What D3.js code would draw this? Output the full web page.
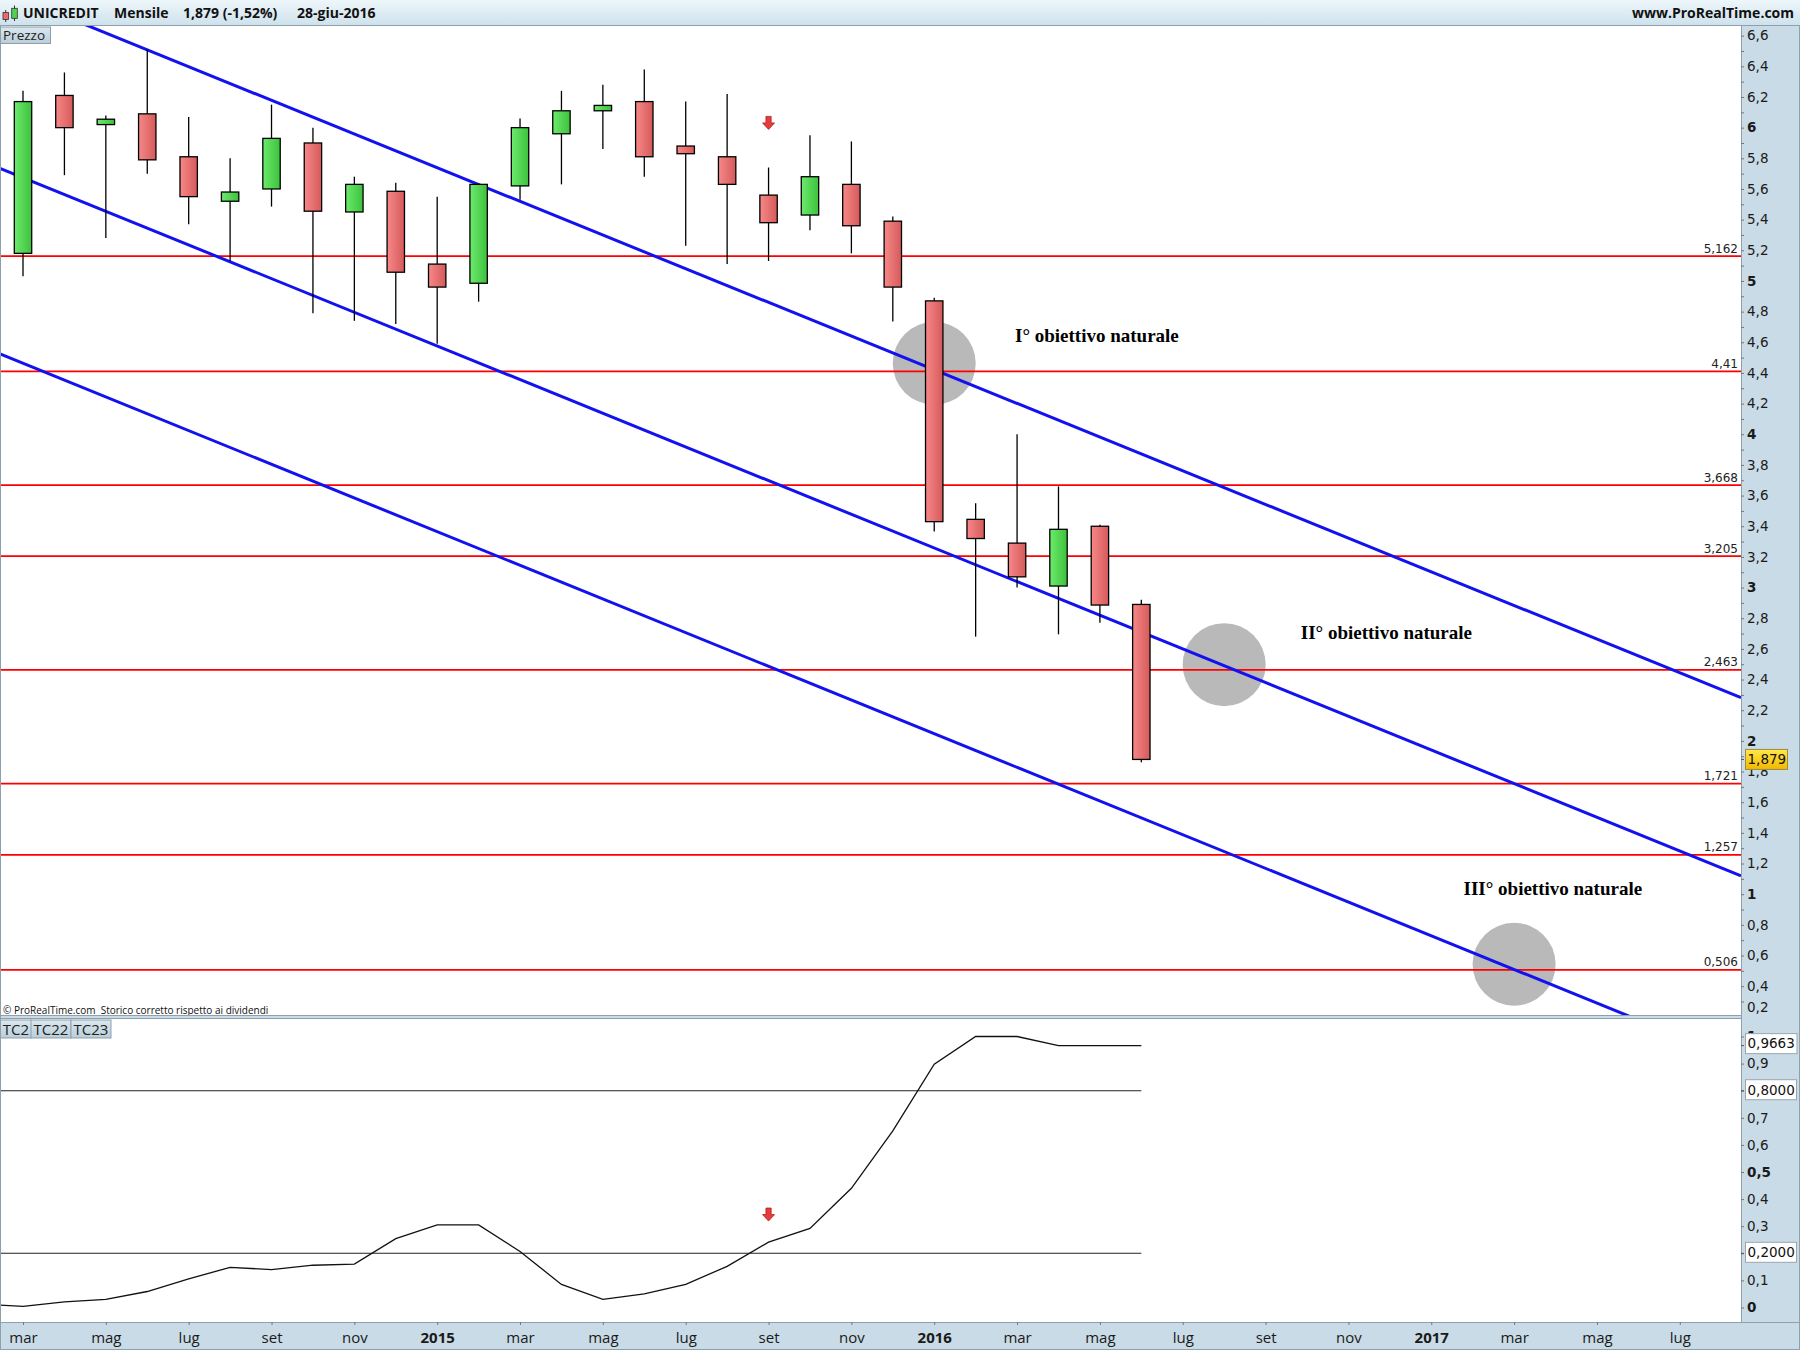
<!DOCTYPE html>
<html><head><meta charset="utf-8">
<script src="https://cdn.jsdelivr.net/npm/d3@7"></script>
<style>body{margin:0;background:#fff;overflow:hidden}</style>
</head><body><div id="chart"></div>
<script>
// ---------- DATA ----------
const months = ["2014-03","2014-04","2014-05","2014-06","2014-07","2014-08","2014-09","2014-10","2014-11","2014-12",
  "2015-01","2015-02","2015-03","2015-04","2015-05","2015-06","2015-07","2015-08","2015-09","2015-10","2015-11","2015-12",
  "2016-01","2016-02","2016-03","2016-04","2016-05","2016-06"];
const openP  = [5.18,6.21,6.02,6.09,5.81,5.52,5.60,5.90,5.45,5.585,5.11,4.985,5.62,5.96,6.11,6.17,5.88,5.81,5.56,5.43,5.63,5.39,4.87,3.445,3.29,3.01,3.40,2.89];
const highP  = [6.24,6.36,6.08,6.51,6.07,5.80,6.15,6.00,5.68,5.64,5.55,5.635,6.06,6.24,6.28,6.38,6.17,6.22,5.74,5.95,5.91,5.42,4.89,3.55,4.00,3.66,3.41,2.92];
const lowP   = [5.03,5.69,5.28,5.70,5.37,5.13,5.485,4.79,4.74,4.72,4.59,4.865,5.53,5.63,5.86,5.68,5.23,5.11,5.13,5.33,5.18,4.735,3.365,2.68,3.00,2.695,2.77,1.86];
const closeP = [6.17,6.00,6.055,5.79,5.55,5.58,5.93,5.455,5.63,5.057,4.96,5.63,6.00,6.11,6.145,5.81,5.83,5.63,5.38,5.68,5.36,4.96,3.43,3.32,3.07,3.38,2.886,1.879];

const tcMonths = ["2014-02","2014-03","2014-04","2014-05","2014-06","2014-07","2014-08","2014-09","2014-10","2014-11","2014-12",
  "2015-01","2015-02","2015-03","2015-04","2015-05","2015-06","2015-07","2015-08","2015-09","2015-10","2015-11","2015-12",
  "2016-01","2016-02","2016-03","2016-04","2016-05","2016-06"];
const tcValues = [0.012,0.004,0.021,0.03,0.059,0.106,0.148,0.14,0.156,0.16,0.254,0.305,0.305,0.207,0.085,0.03,0.05,0.085,0.152,0.241,0.292,0.44,0.652,0.898,1.0,1.0,0.9663,0.9663,0.9663];
const tcLevels = [0.8, 0.2];
const tcLevelLabels = ["0,8000", "0,2000"];
const tcLast = 0.9663, tcLastLabel = "0,9663";

const levels = [5.162, 4.41, 3.668, 3.205, 2.463, 1.721, 1.257, 0.506];
const levelLabels = ["5,162","4,41","3,668","3,205","2,463","1,721","1,257","0,506"];

const channelMonths = ["2014-03", "2017-07"];
const channelTop = [6.837, 2.444];
const channelMid = [5.674, 1.282];
const channelBottom = [4.463, 0.070];

const targetMonths = ["2016-01", "2016-08", "2017-03"];
const targetPrices = [4.463, 2.497, 0.543];
const targetLabels = ["I° obiettivo naturale", "II° obiettivo naturale", "III° obiettivo naturale"];
const targetLabelMonthPos = [23.95, 30.85, 34.78];
const targetLabelPricePos = [4.605, 2.665, 0.995];

const arrowMonth = "2015-09", arrowPrice = 6.031, arrowTc = 0.343;
const lastPrice = 1.879, lastPriceLabel = "1,879";

const priceTicks = [0.2,0.4,0.6,0.8,1,1.2,1.4,1.6,1.8,2,2.2,2.4,2.6,2.8,3,3.2,3.4,3.6,3.8,4,4.2,4.4,4.6,4.8,5,5.2,5.4,5.6,5.8,6,6.2,6.4,6.6];
const tcTicks = [0,0.1,0.3,0.4,0.5,0.6,0.7,0.9,1];   // 0,2 and 0,8 are hidden under their value boxes
const xTickMonths = ["2014-03","2014-05","2014-07","2014-09","2014-11","2015-01","2015-03","2015-05","2015-07","2015-09","2015-11",
  "2016-01","2016-03","2016-05","2016-07","2016-09","2016-11","2017-01","2017-03","2017-05","2017-07"];
const xTickLabels = ["mar","mag","lug","set","nov","2015","mar","mag","lug","set","nov","2016","mar","mag","lug","set","nov","2017","mar","mag","lug"];

// ---------- LAYOUT ----------
const W = 1800, H = 1350;
const plotR = 1741, headerH = 26;
const pTop = 26, pBot = 1015, iTop = 1019, iBot = 1322;
const axisBg = "#c9dbe6", borderC = "#8f9fab";
const UI = "'Open Sans', 'Noto Sans', sans-serif";
const AX = "'DejaVu Sans', Verdana, sans-serif";

const monthIdx = s => { const [y, m] = s.split("-").map(Number); return (y - 2014) * 12 + (m - 3); };
const x = d3.scaleLinear().domain([-0.5553, 41.478]).range([0, plotR]);
const yP = d3.scaleLinear().domain([0.212, 6.663]).range([pBot, pTop]);
const yI = d3.scaleLinear().domain([-0.0535, 1.0646]).range([iBot, iTop]);
const fmt = v => { const r = Math.round(v * 10) / 10; return Number.isInteger(r) ? String(r) : r.toFixed(1).replace(".", ","); };

const svg = d3.select("#chart").append("svg").attr("width", W).attr("height", H)
  .attr("viewBox", `0 0 ${W} ${H}`).style("display", "block");
const defs = svg.append("defs");
function hGrad(id, a, b) {
  const g = defs.append("linearGradient").attr("id", id).attr("x1", 0).attr("x2", 1).attr("y1", 0).attr("y2", 0);
  g.append("stop").attr("offset", 0).attr("stop-color", a);
  g.append("stop").attr("offset", 1).attr("stop-color", b);
}
function vGrad(id, a, b) {
  const g = defs.append("linearGradient").attr("id", id).attr("x1", 0).attr("x2", 0).attr("y1", 0).attr("y2", 1);
  g.append("stop").attr("offset", 0).attr("stop-color", a);
  g.append("stop").attr("offset", 1).attr("stop-color", b);
}
hGrad("gGreen", "#6cea6c", "#3dc23d");
hGrad("gRed", "#f78888", "#d55a5a");
vGrad("gHead", "#eef7fb", "#cde1eb");
vGrad("gTab", "#dbe8ef", "#b9cdd9");
vGrad("gYellow", "#ffe74a", "#f2b800");
defs.append("clipPath").attr("id", "cP").append("rect").attr("x", 0).attr("y", pTop).attr("width", plotR).attr("height", pBot - pTop);
defs.append("clipPath").attr("id", "cI").append("rect").attr("x", 0).attr("y", iTop).attr("width", plotR).attr("height", iBot - iTop);

svg.append("rect").attr("width", W).attr("height", H).attr("fill", "#fff");

// ---------- PRICE PANEL ----------
const gp = svg.append("g").attr("clip-path", "url(#cP)");
gp.selectAll("circle.t").data(targetMonths).join("circle")
  .attr("cx", (d) => x(monthIdx(d))).attr("cy", (d, i) => yP(targetPrices[i])).attr("r", 41.5)
  .attr("fill", "#b9b9b9");
gp.selectAll("line.lv").data(levels).join("line")
  .attr("x1", 0).attr("x2", plotR).attr("y1", d => yP(d)).attr("y2", d => yP(d))
  .attr("stroke", "#ff0000").attr("stroke-width", 1.7);
const c0 = monthIdx(channelMonths[0]), c1 = monthIdx(channelMonths[1]);
const dom = x.domain();
[channelTop, channelMid, channelBottom].forEach(ch => {
  const slope = (ch[1] - ch[0]) / (c1 - c0);
  const v = t => ch[0] + slope * (t - c0);
  gp.append("line").attr("x1", x(dom[0])).attr("y1", yP(v(dom[0])))
    .attr("x2", x(dom[1])).attr("y2", yP(v(dom[1])))
    .attr("stroke", "#1212ee").attr("stroke-width", 3);
});
const candles = months.map((m, i) => ({ i: monthIdx(m), o: openP[i], h: highP[i], l: lowP[i], c: closeP[i] }));
const cw = 17.4;
const cg = gp.selectAll("g.c").data(candles).join("g");
cg.append("line").attr("x1", d => x(d.i)).attr("x2", d => x(d.i))
  .attr("y1", d => yP(d.h)).attr("y2", d => yP(d.l)).attr("stroke", "#000").attr("stroke-width", 1.3);
cg.append("rect").attr("x", d => x(d.i) - cw / 2).attr("width", cw)
  .attr("y", d => yP(Math.max(d.o, d.c)))
  .attr("height", d => Math.max(1.5, yP(Math.min(d.o, d.c)) - yP(Math.max(d.o, d.c))))
  .attr("fill", d => d.c >= d.o ? "url(#gGreen)" : "url(#gRed)")
  .attr("stroke", "#000").attr("stroke-width", 1.3);
gp.selectAll("text.lv").data(levels).join("text")
  .attr("x", plotR - 3).attr("y", d => yP(d) - 3.5).attr("text-anchor", "end")
  .attr("font-family", AX).attr("font-size", 12).attr("fill", "#222")
  .text((d, i) => levelLabels[i]);
gp.selectAll("text.tl").data(targetLabels).join("text")
  .attr("x", (d, i) => x(targetLabelMonthPos[i])).attr("y", (d, i) => yP(targetLabelPricePos[i]))
  .attr("font-family", "'Liberation Serif', 'Times New Roman', serif").attr("font-weight", "bold")
  .attr("font-size", 19).attr("fill", "#000").text(d => d);
const arrowPath = "M-2.6,-6.5 L2.6,-6.5 L2.6,0 L6,0 L0,6.5 L-6,0 L-2.6,0 Z";
gp.append("path").attr("d", arrowPath)
  .attr("transform", `translate(${x(monthIdx(arrowMonth))},${yP(arrowPrice)})`)
  .attr("fill", "#e63c3c").attr("stroke", "#b02020").attr("stroke-width", 0.8);

svg.append("text").attr("x", 3).attr("y", 1013.5).attr("font-family", UI).attr("font-size", 10)
  .attr("fill", "#111").attr("xml:space", "preserve").text("© ProRealTime.com  Storico corretto rispetto ai dividendi");
svg.append("rect").attr("x", 0.5).attr("y", 27).attr("width", 50).attr("height", 16.5)
  .attr("fill", "url(#gTab)").attr("stroke", borderC).attr("stroke-width", 1);
svg.append("text").attr("x", 3).attr("y", 40).attr("font-family", UI).attr("font-size", 13.5)
  .attr("fill", "#222").text("Prezzo");

// ---------- INDICATOR PANEL ----------
const gi = svg.append("g").attr("clip-path", "url(#cI)");
const lastIdx = monthIdx(tcMonths[tcMonths.length - 1]);
gi.selectAll("line.tl").data(tcLevels).join("line")
  .attr("x1", 0).attr("x2", x(lastIdx)).attr("y1", d => yI(d)).attr("y2", d => yI(d))
  .attr("stroke", "#222").attr("stroke-width", 1.1);
gi.append("path").datum(tcMonths.map((m, i) => [monthIdx(m), tcValues[i]]))
  .attr("d", d3.line().x(d => x(d[0])).y(d => yI(d[1])))
  .attr("fill", "none").attr("stroke", "#111").attr("stroke-width", 1.3);
gi.append("path").attr("d", arrowPath)
  .attr("transform", `translate(${x(monthIdx(arrowMonth))},${yI(arrowTc)})`)
  .attr("fill", "#e63c3c").attr("stroke", "#b02020").attr("stroke-width", 0.8);
const tabs = [["TC2", 0.5, 31], ["TC22", 31, 40], ["TC23", 71, 40]];
tabs.forEach(t => {
  svg.append("rect").attr("x", t[1]).attr("y", 1020).attr("width", t[2]).attr("height", 18)
    .attr("fill", "url(#gTab)").attr("stroke", borderC).attr("stroke-width", 1);
  svg.append("text").attr("x", t[1] + t[2] / 2).attr("y", 1034.5).attr("text-anchor", "middle")
    .attr("font-family", UI).attr("font-size", 15).attr("fill", "#222").text(t[0]);
});

// ---------- FRAMES ----------
svg.append("rect").attr("x", 0).attr("y", pBot).attr("width", plotR).attr("height", iTop - pBot).attr("fill", axisBg);
svg.append("rect").attr("x", plotR).attr("y", 0).attr("width", W - plotR).attr("height", H).attr("fill", axisBg);
svg.append("rect").attr("x", 0).attr("y", iBot).attr("width", W).attr("height", H - iBot).attr("fill", axisBg);
svg.append("line").attr("x1", 0).attr("x2", plotR).attr("y1", pBot + 0.5).attr("y2", pBot + 0.5).attr("stroke", borderC);
svg.append("line").attr("x1", 0).attr("x2", plotR).attr("y1", iTop - 0.5).attr("y2", iTop - 0.5).attr("stroke", borderC);
svg.append("line").attr("x1", 0).attr("x2", W).attr("y1", iBot + 0.5).attr("y2", iBot + 0.5).attr("stroke", borderC);
svg.append("line").attr("x1", plotR + 0.5).attr("x2", plotR + 0.5).attr("y1", headerH).attr("y2", iBot).attr("stroke", borderC);
svg.append("line").attr("x1", 0.5).attr("x2", 0.5).attr("y1", headerH).attr("y2", H).attr("stroke", borderC);
svg.append("line").attr("x1", W - 0.5).attr("x2", W - 0.5).attr("y1", 0).attr("y2", H).attr("stroke", borderC);
svg.append("line").attr("x1", 0).attr("x2", W).attr("y1", H - 0.5).attr("y2", H - 0.5).attr("stroke", borderC);

svg.append("rect").attr("x", 0).attr("y", 0).attr("width", W).attr("height", headerH).attr("fill", "url(#gHead)");
svg.append("line").attr("x1", 0).attr("x2", W).attr("y1", headerH - 0.5).attr("y2", headerH - 0.5).attr("stroke", borderC);
svg.append("line").attr("x1", 5.7).attr("x2", 5.7).attr("y1", 10).attr("y2", 22).attr("stroke", "#333").attr("stroke-width", 1);
svg.append("rect").attr("x", 3).attr("y", 12.5).attr("width", 5.4).attr("height", 7).attr("fill", "#ef6b6b").attr("stroke", "#333").attr("stroke-width", 0.8);
svg.append("line").attr("x1", 14.5).attr("x2", 14.5).attr("y1", 5.5).attr("y2", 21).attr("stroke", "#333").attr("stroke-width", 1);
svg.append("rect").attr("x", 11.7).attr("y", 8.3).attr("width", 5.6).attr("height", 10).attr("fill", "#4fd24f").attr("stroke", "#333").attr("stroke-width", 0.8);
const head = [["UNICREDIT", 23], ["Mensile", 114], ["1,879 (-1,52%)", 183], ["28-giu-2016", 297]];
head.forEach(h => svg.append("text").attr("x", h[1]).attr("y", 17.5).attr("font-family", UI)
  .attr("font-weight", "bold").attr("font-size", 14).attr("fill", "#111").text(h[0]));
svg.append("text").attr("x", 1794).attr("y", 17.5).attr("text-anchor", "end").attr("font-family", UI)
  .attr("font-weight", "bold").attr("font-size", 14).attr("fill", "#111").text("www.ProRealTime.com");

// ---------- AXES ----------
const minor = d3.range(0.3, 6.6, 0.2);
svg.append("g").attr("transform", `translate(${plotR},0)`)
  .call(d3.axisRight(yP).tickValues(minor).tickSize(3).tickFormat(""))
  .call(g => g.select(".domain").remove())
  .call(g => g.selectAll("line").attr("stroke", "#777"));
const pax = svg.append("g").attr("transform", `translate(${plotR},0)`)
  .call(d3.axisRight(yP).tickValues(priceTicks).tickSize(3).tickPadding(3).tickFormat(fmt));
pax.select(".domain").remove();
pax.selectAll("line").attr("stroke", "#777");
pax.selectAll("text").attr("font-family", AX).attr("font-size", 13.5).attr("fill", "#1a1a1a")
  .attr("font-weight", d => Number.isInteger(d) ? "bold" : "normal");
pax.selectAll(".tick").filter(d => yP(d) > pBot - 8).each(function (d) {
  d3.select(this).select("line").remove();
  d3.select(this).select("text").attr("y", (pBot - 8) - yP(d));
});
// indicator axis (ticks for hidden labels too)
svg.append("g").attr("transform", `translate(${plotR},0)`)
  .call(d3.axisRight(yI).tickValues(tcLevels).tickSize(3).tickFormat(""))
  .call(g => g.select(".domain").remove())
  .call(g => g.selectAll("line").attr("stroke", "#777"));
const iax = svg.append("g").attr("transform", `translate(${plotR},0)`)
  .call(d3.axisRight(yI).tickValues(tcTicks).tickSize(3).tickPadding(3).tickFormat(fmt));
iax.select(".domain").remove();
iax.selectAll("line").attr("stroke", "#777");
iax.selectAll("text").attr("font-family", AX).attr("font-size", 13.5).attr("fill", "#1a1a1a")
  .attr("font-weight", d => (d === 0 || d === 0.5 || d === 1) ? "bold" : "normal");
const xax = svg.append("g").attr("transform", `translate(0,${iBot})`)
  .call(d3.axisBottom(x).tickValues(xTickMonths.map(monthIdx)).tickSize(3).tickPadding(7)
    .tickFormat((d, i) => xTickLabels[i]));
xax.select(".domain").remove();
xax.selectAll("line").attr("stroke", "#777");
xax.selectAll("text").attr("font-family", UI).attr("font-size", 15).attr("fill", "#1a1a1a")
  .attr("font-weight", (d, i) => /^\d+$/.test(xTickLabels[i]) ? "bold" : "normal");

// ---------- VALUE BOXES ----------
function valueBox(yv, label, fill, stroke, w, off) {
  svg.append("line").attr("x1", plotR).attr("x2", plotR + 3).attr("y1", yv).attr("y2", yv).attr("stroke", "#555");
  svg.append("rect").attr("x", plotR + 4.5).attr("y", yv - 10 - off).attr("width", w).attr("height", 20)
    .attr("fill", fill).attr("stroke", stroke).attr("stroke-width", 1);
  svg.append("text").attr("x", plotR + 6.5).attr("y", yv - off).attr("dy", "0.36em")
    .attr("font-family", AX).attr("font-size", 13.5).attr("fill", "#111").text(label);
}
valueBox(yP(lastPrice), lastPriceLabel, "url(#gYellow)", "#a08a40", 42, 0);
valueBox(yI(tcLast), tcLastLabel, "#fff", "#9aa6ae", 51.5, 2);
tcLevels.forEach((l, i) => valueBox(yI(l), tcLevelLabels[i], "#fff", "#9aa6ae", 51, 1));
</script>
</body></html>
